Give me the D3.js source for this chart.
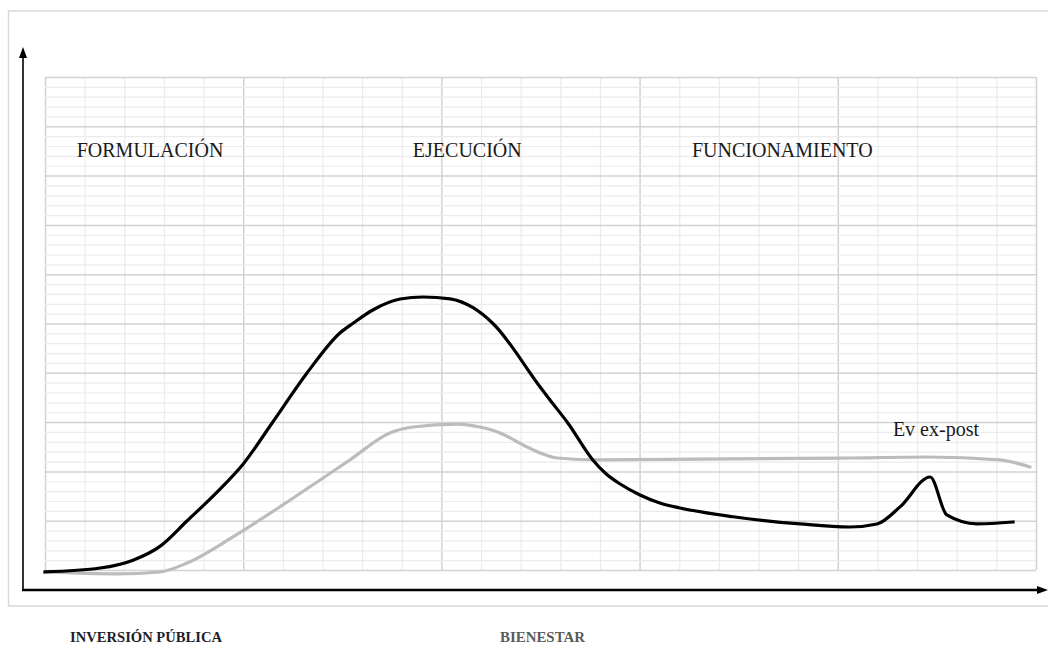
<!DOCTYPE html>
<html>
<head>
<meta charset="utf-8">
<script src="https://cdn.jsdelivr.net/npm/d3@7"></script>
<style>
  body { margin: 0; background: #fff; }
  svg { display: block; }
</style>
</head>
<body>
<div id="chart"></div>
<script>
// phase labels (inside the grid) and axis labels (below)
var phaseLabels = ["FORMULACIÓN", "EJECUCIÓN", "FUNCIONAMIENTO"];
var noteLabel = "Ev ex-post";
var axisLabels = ["INVERSIÓN PÚBLICA", "BIENESTAR"];

// curves, in grid cells (x: 0-25, y: 0-50)
var inversionX = [0, 1.39, 2.22, 2.9, 3.58, 4.34, 5.0, 5.73, 6.61, 7.44, 7.78, 8.27, 8.96, 9.54, 10.22, 10.8, 11.3, 12.49, 12.74, 13.19, 13.82, 14.13, 14.51, 15.01, 15.51, 16.02, 17.36, 19.05, 20.3, 20.99, 21.57, 22.33, 22.75, 23.51, 24.42];
var inversionY = [-0.2, 0.2, 1.0, 2.4, 4.97, 7.9, 10.75, 14.91, 19.98, 24.04, 25.05, 26.37, 27.48, 27.69, 27.5, 26.6, 25.0, 18.56, 17.24, 14.91, 11.16, 9.84, 8.72, 7.61, 6.8, 6.29, 5.4, 4.67, 4.36, 4.67, 6.4, 9.43, 5.58, 4.67, 4.87];

var bienestarX = [0, 1.82, 2.9, 3.58, 4.74, 6.0, 6.94, 7.69, 8.7, 9.28, 10.39, 10.97, 11.48, 12.06, 12.49, 12.92, 14.0, 20.3, 22.25, 24.09, 24.85];
var bienestarY = [-0.2, -0.4, -0.2, 0.7, 3.35, 6.6, 9.13, 11.16, 13.9, 14.5, 14.8, 14.5, 13.9, 12.68, 11.87, 11.36, 11.16, 11.36, 11.46, 11.16, 10.45];

var W = 1048, H = 646;
var svg = d3.select("#chart").append("svg")
    .attr("width", W)
    .attr("height", H);

// outer frame (right side runs off the picture)
svg.append("path")
    .attr("d", "M1052,11H8.5V606H1052")
    .attr("fill", "none")
    .attr("stroke", "#d9d9d9")
    .attr("stroke-width", 1.5);

var x = d3.scaleLinear().domain([0, 25]).range([45, 1036]);
var y = d3.scaleLinear().domain([0, 50]).range([570, 77]);

var grid = svg.append("g").attr("class", "grid");

// vertical grid lines
grid.append("g")
    .attr("transform", "translate(0," + y(0) + ")")
    .call(d3.axisBottom(x).tickValues(d3.range(0, 26)).tickSize(y(50) - y(0)).tickFormat(""))
    .call(g => g.select(".domain").remove())
    .selectAll("line")
    .attr("stroke", d => d % 5 === 0 ? "#d2d2d2" : "#ebebeb")
    .attr("stroke-width", d => d % 5 === 0 ? 1.5 : 1.2);

// horizontal grid lines
grid.append("g")
    .attr("transform", "translate(" + x(0) + ",0)")
    .call(d3.axisLeft(y).tickValues(d3.range(0, 51)).tickSize(x(0) - x(25)).tickFormat(""))
    .call(g => g.select(".domain").remove())
    .selectAll("line")
    .attr("stroke", d => d % 5 === 0 ? "#d2d2d2" : "#ebebeb")
    .attr("stroke-width", d => d % 5 === 0 ? 1.5 : 1.2);

// phase labels
var labelX = [0.8, 9.28, 16.32];
svg.selectAll("text.phase")
    .data(phaseLabels)
    .enter().append("text")
    .attr("class", "phase")
    .attr("x", (d, i) => x(labelX[i]))
    .attr("y", y(41.9))
    .attr("font-family", "Liberation Serif, serif")
    .attr("font-size", "20px")
    .attr("fill", "#1a1a1a")
    .text(d => d);

svg.append("text")
    .attr("x", x(21.39))
    .attr("y", y(13.6))
    .attr("font-family", "Liberation Serif, serif")
    .attr("font-size", "20px")
    .attr("fill", "#1a1a1a")
    .text(noteLabel);

// curves
var line = d3.line()
    .x(d => x(d[0]))
    .y(d => y(d[1]))
    .curve(d3.curveMonotoneX);

svg.append("path")
    .datum(d3.zip(bienestarX, bienestarY))
    .attr("d", line)
    .attr("fill", "none")
    .attr("stroke", "#bcbcbc")
    .attr("stroke-width", 3.2)
    .attr("stroke-linecap", "round");

svg.append("path")
    .datum(d3.zip(inversionX, inversionY))
    .attr("d", line)
    .attr("fill", "none")
    .attr("stroke", "#000")
    .attr("stroke-width", 3.2)
    .attr("stroke-linecap", "square");

// axes with arrowheads
svg.append("line")
    .attr("x1", 23).attr("y1", 590)
    .attr("x2", 23).attr("y2", 56)
    .attr("stroke", "#000")
    .attr("stroke-width", 1.6);
svg.append("path")
    .attr("d", "M23,47L19,58L27,58Z")
    .attr("fill", "#000");

svg.append("line")
    .attr("x1", 22).attr("y1", 590)
    .attr("x2", 1040).attr("y2", 590)
    .attr("stroke", "#000")
    .attr("stroke-width", 2.6);
svg.append("path")
    .attr("d", "M1048,590L1037,586L1037,594Z")
    .attr("fill", "#000");

// labels below the axis
var axisLabelX = [70, 500];
var axisLabelW = [152, 85];
var axisLabelC = ["#1e1e28", "#5a5a5a"];
svg.selectAll("text.axislabel")
    .data(axisLabels)
    .enter().append("text")
    .attr("class", "axislabel")
    .attr("x", (d, i) => axisLabelX[i])
    .attr("y", 642)
    .attr("font-family", "Liberation Serif, serif")
    .attr("font-weight", "bold")
    .attr("font-size", "15px")
    .attr("fill", (d, i) => axisLabelC[i])
    .attr("textLength", (d, i) => axisLabelW[i])
    .attr("lengthAdjust", "spacingAndGlyphs")
    .text(d => d);
</script>
</body>
</html>
